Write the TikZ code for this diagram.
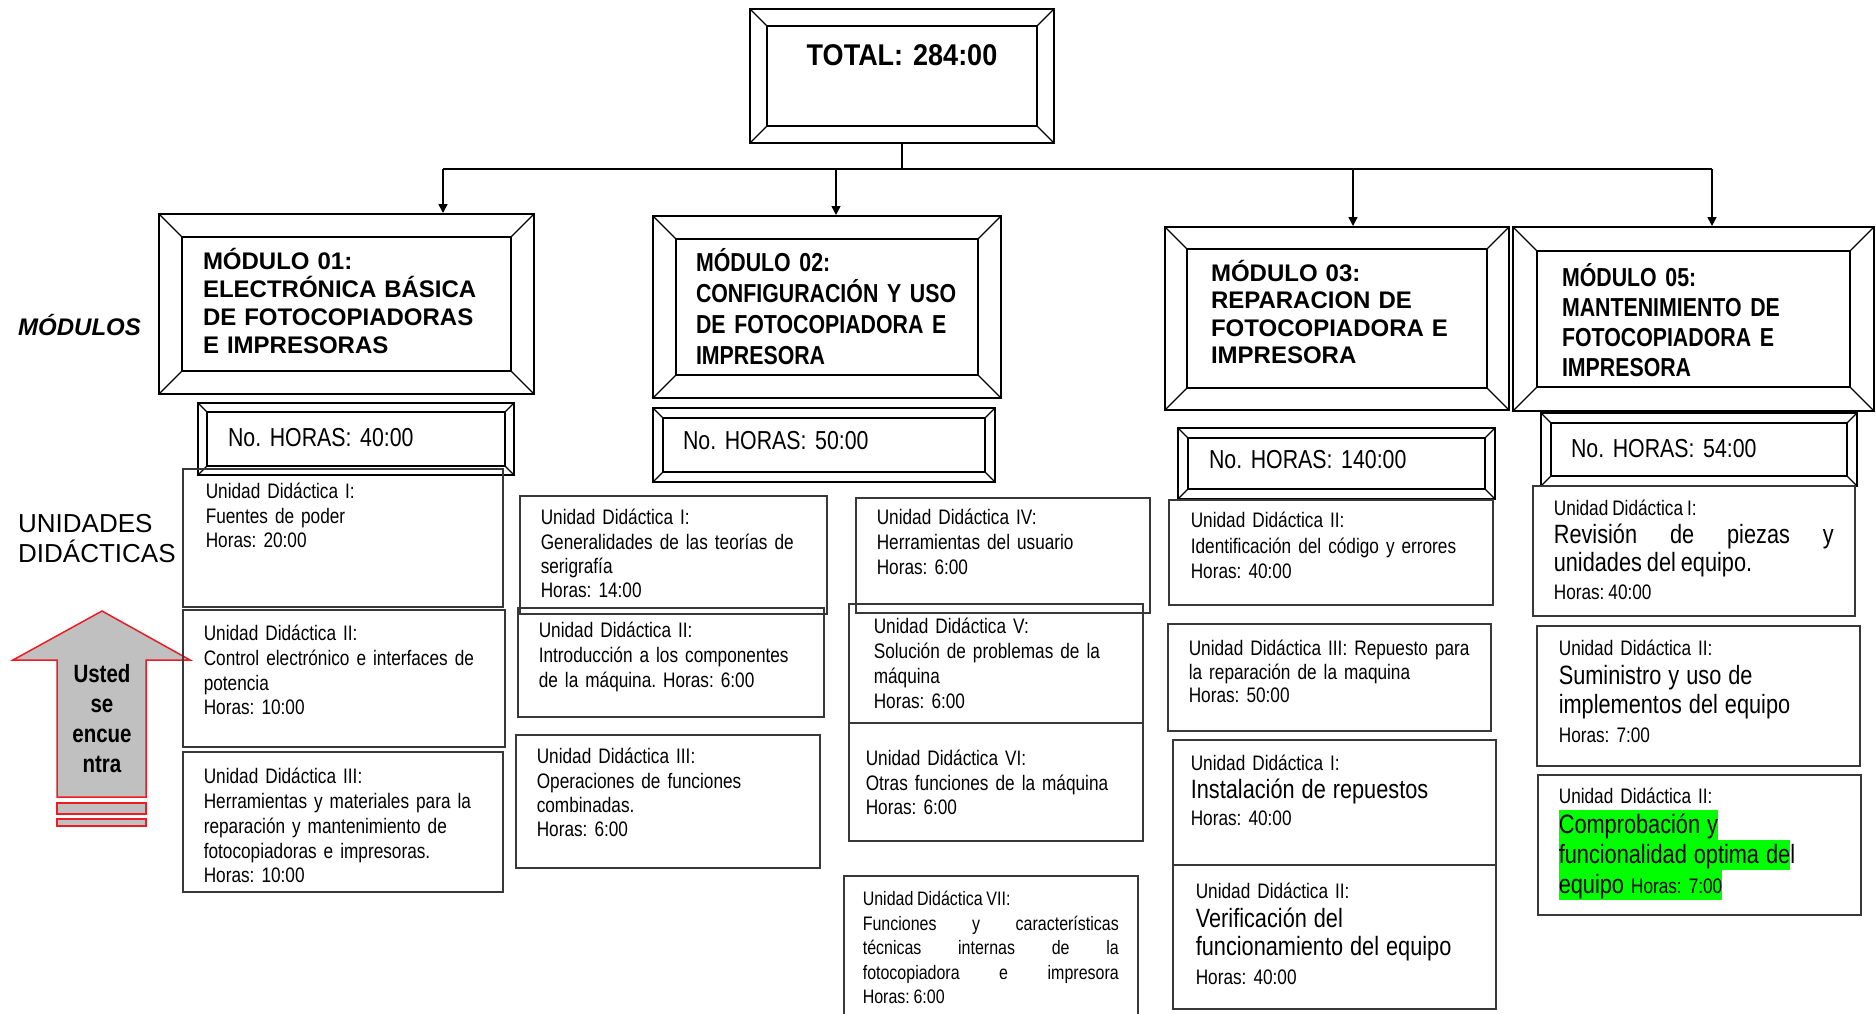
\documentclass[tikz,border=0pt]{standalone}
\usepackage{fontspec}
\setmainfont{Liberation Sans}
\newfontfamily\narrowfont{Liberation Sans}[FakeStretch=0.82,WordSpace=0.82]
\newfontfamily\semifont{Liberation Sans}[FakeStretch=0.9,WordSpace=0.9]
\usepackage{xcolor}
\usetikzlibrary{arrows.meta}
\frenchspacing
\definecolor{hlgreen}{RGB}{0,255,0}
\definecolor{tagred}{RGB}{237,28,36}
\definecolor{tagfill}{RGB}{192,192,192}
\colorlet{boxline}{black!78}
\newcommand{\modfont}{\bfseries\fontsize{24}{28}\selectfont}
\newcommand{\modnarrow}[1]{\narrowfont\bfseries\fontsize{26}{#1}\selectfont}
\newcommand{\udfont}[2]{\narrowfont\fontsize{#1}{#2}\selectfont}
\newcommand{\ubig}{\fontsize{26.5}{30}\selectfont}
\newcommand{\hlg}[1]{{\setlength{\fboxsep}{0pt}\colorbox{hlgreen}{\rule[-6.5pt]{0pt}{30pt}#1}}}
\tikzset{
  bevel/.style={draw, line width=2pt, anchor=north west, align=left, inner ysep=0pt,
    path picture={
      \draw[line width=1.3pt]
        ([shift={(#1pt,-#1pt)}]path picture bounding box.north west) rectangle
        ([shift={(-#1pt,#1pt)}]path picture bounding box.south east);
      \draw[line width=1.3pt]
        (path picture bounding box.north west) -- ++(#1pt,-#1pt)
        (path picture bounding box.north east) -- ++(-#1pt,-#1pt)
        (path picture bounding box.south west) -- ++(#1pt,#1pt)
        (path picture bounding box.south east) -- ++(-#1pt,#1pt);
    }},
  bevel/.default=23,
  ubox/.style={draw=boxline, line width=1.6pt, anchor=north west, align=left, inner ysep=0pt},
  arr/.style={-{Triangle[length=9pt,width=9pt]}, line width=1.6pt},
  tag/.style={draw=tagred, fill=tagfill, line width=1.5pt},
}
\begin{document}
\begin{tikzpicture}[x=1pt, y=-1pt]
  \useasboundingbox (0,0) rectangle (1876,1013);
  \fill[white] (0,0) rectangle (1876,1013);

  % total
  \node[bevel=17, align=center, text width=270pt, inner xsep=17pt, text height=56pt, text depth=78pt,
        font={\semifont\bfseries\fontsize{30}{34}\selectfont}]
        (tot) at (749,8) {TOTAL: 284:00};

  % modulos
  \node[bevel, text width=287pt, inner xsep=44pt, text height=55pt, text depth=125pt, font=\modfont]
        (m1) at (158,213) {MÓDULO 01:\\ELECTRÓNICA BÁSICA\\DE FOTOCOPIADORAS\\E IMPRESORAS};
  \node[bevel, text width=262pt, inner xsep=43pt, text height=55pt, text depth=127pt, font={\modnarrow{31}}]
        (m2) at (652,215) {MÓDULO 02:\\CONFIGURACIÓN Y USO\\DE FOTOCOPIADORA E\\IMPRESORA};
  \node[bevel=22, text width=252pt, inner xsep=46pt, text height=54pt, text depth=129pt,
        font={\bfseries\fontsize{24}{27.5}\selectfont}]
        (m3) at (1164,226) {MÓDULO 03:\\REPARACION DE\\FOTOCOPIADORA E\\IMPRESORA};
  \node[bevel=24, text width=263pt, inner xsep=49pt, text height=59pt, text depth=125pt, font={\modnarrow{30}}]
        (m5) at (1512,226) {MÓDULO 05:\\MANTENIMIENTO DE\\FOTOCOPIADORA E\\IMPRESORA};

  % horas
  \node[bevel=9, text width=256pt, inner xsep=30pt, text height=43pt, text depth=29pt, font={\udfont{26}{30}}]
        (h1) at (197,402) {No. HORAS: 40:00};
  \node[bevel=10, text width=282pt, inner xsep=30pt, text height=41pt, text depth=33pt, font={\udfont{26}{30}}]
        (h2) at (652,407) {No. HORAS: 50:00};
  \node[bevel=10, text width=255pt, inner xsep=31pt, text height=40pt, text depth=31pt, font={\udfont{26}{30}}]
        (h3) at (1177,427) {No. HORAS: 140:00};
  \node[bevel=10, text width=256pt, inner xsep=30pt, text height=44pt, text depth=29pt, font={\udfont{26}{30}}]
        (h5) at (1540,412) {No. HORAS: 54:00};

  % etiquetas
  \node[anchor=base west, inner sep=0pt, font=\bfseries\itshape\fontsize{24}{28}\selectfont]
        (lblmod) at (18,335) {MÓDULOS};
  \node[anchor=base west, inner sep=0pt, align=left, text width=180pt, font=\fontsize{26}{30}\selectfont]
        (lblud) at (18,532) {UNIDADES\\DIDÁCTICAS};

  % usted se encuentra
  \filldraw[tag] (102,611) -- (190,660) -- (146,660) -- (146,797) -- (57,797) -- (57,660) -- (13,660) -- cycle;
  \filldraw[tag] (57,803) rectangle (146,814);
  \filldraw[tag] (57,819) rectangle (146,826);
  \node[anchor=base, inner sep=0pt, align=center, text width=90pt,
        font={\narrowfont\bfseries\fontsize{25}{30}\selectfont}]
        (usted) at (102,682) {Usted\\se\\encue\\ntra};

  % modulo 01
  \node[ubox, text width=274pt, inner xsep=23pt, text height=30pt, text depth=108pt, font={\udfont{21}{24.5}}]
        (c1u1) at (182,468) {Unidad Didáctica I:\\Fuentes de poder\\Horas: 20:00};
  \node[ubox, text width=280pt, inner xsep=21pt, text height=31pt, text depth=106pt, font={\udfont{21}{24.7}}]
        (c1u2) at (182,609) {Unidad Didáctica II:\\Control electrónico e interfaces de\\potencia\\Horas: 10:00};
  \node[ubox, text width=278pt, inner xsep=21pt, text height=32pt, text depth=108pt, font={\udfont{21}{24.75}}]
        (c1u3) at (182,751) {Unidad Didáctica III:\\Herramientas y materiales para la\\reparación y mantenimiento de\\fotocopiadoras e impresoras.\\Horas: 10:00};

  % modulo 02
  \node[ubox, text width=265pt, inner xsep=21pt, text height=29pt, text depth=89pt, font={\udfont{21}{24.3}}]
        (c2u1) at (519,495) {Unidad Didáctica I:\\Generalidades de las teorías de\\serigrafía\\Horas: 14:00};
  \node[ubox, text width=264pt, inner xsep=21pt, text height=30pt, text depth=79pt, font={\udfont{21}{25}}]
        (c2u2) at (517,607) {Unidad Didáctica II:\\Introducción a los componentes\\de la máquina. Horas: 6:00};
  \node[ubox, text width=262pt, inner xsep=21pt, text height=29pt, text depth=104pt, font={\udfont{21}{24.3}}]
        (c2u3) at (515,734) {Unidad Didáctica III:\\Operaciones de funciones\\combinadas.\\Horas: 6:00};
  \node[ubox, text width=252pt, inner xsep=21pt, text height=27pt, text depth=88pt, font={\udfont{21}{25}}]
        (c3u4) at (855,497) {Unidad Didáctica IV:\\Herramientas del usuario\\Horas: 6:00};
  \node[ubox, text width=244pt, inner xsep=25pt, text height=30pt, text depth=89pt, font={\udfont{21}{25}}]
        (c3u5) at (848,603) {Unidad Didáctica V:\\Solución de problemas de la\\máquina\\Horas: 6:00};
  \node[ubox, text width=260pt, inner xsep=17pt, text height=43pt, text depth=75pt, font={\udfont{21}{24.5}}]
        (c3u6) at (848,722) {Unidad Didáctica VI:\\Otras funciones de la máquina\\Horas: 6:00};
  \node[ubox, align=justify, text width=256pt, inner xsep=19pt, text height=30pt, text depth=150pt, font={\udfont{19.5}{24.5}}]
        (c3u7) at (843,875) {Unidad Didáctica VII:\\Funciones y características\linebreak
        técnicas internas de la\linebreak fotocopiadora e impresora\linebreak Horas: 6:00};

  % modulo 03
  \node[ubox, text width=280pt, inner xsep=22pt, text height=28pt, text depth=77pt, font={\udfont{21}{25.5}}]
        (c4u1) at (1168,499) {Unidad Didáctica II:\\Identificación del código y errores\\Horas: 40:00};
  \node[ubox, text width=281pt, inner xsep=21pt, text height=32pt, text depth=75pt, font={\udfont{21}{23.5}}]
        (c4u2) at (1167,623) {Unidad Didáctica III: Repuesto para\\la reparación de la maquina\\Horas: 50:00};
  \node[ubox, text width=287pt, inner xsep=18pt, text height=31pt, text depth=94pt, font={\udfont{21}{27.5}}]
        (c4u3) at (1172,739) {Unidad Didáctica I:\\{\ubig Instalación de repuestos}\\Horas: 40:00};
  \node[ubox, text width=277pt, inner xsep=23pt, text height=34pt, text depth=110pt, font={\udfont{21}{28.5}}]
        (c4u4) at (1172,864) {Unidad Didáctica II:\\{\ubig Verificación del}\\{\ubig funcionamiento del equipo}\\Horas: 40:00};

  % modulo 05
  \node[ubox, align=justify, text width=280pt, inner xsep=21pt, text height=30pt, text depth=100pt, font={\udfont{21}{28}}]
        (c5u1) at (1532,485) {Unidad Didáctica I:\\{\ubig Revisión de piezas y\linebreak unidades del equipo.}\\Horas: 40:00};
  \node[ubox, text width=279pt, inner xsep=22pt, text height=30pt, text depth=110pt, font={\udfont{21}{29}}]
        (c5u2) at (1536,625) {Unidad Didáctica II:\\{\ubig Suministro y uso de}\\{\ubig implementos del equipo}\\Horas: 7:00};
  \node[ubox, text width=281pt, inner xsep=21pt, text height=29pt, text depth=111pt, font={\udfont{21}{30}}]
        (c5u3) at (1537,774) {Unidad Didáctica II:\\{\ubig\hlg{Comprobación y}}\\{\ubig\hlg{funcionalidad optima de}l}\\\hlg{{\ubig equipo} Horas: 7:00}};

  % conectores
  \coordinate (b1) at (443,169);
  \coordinate (b2) at (836,169);
  \coordinate (b3) at (1353,169);
  \coordinate (b4) at (1712,169);
  \draw[line width=1.6pt] (tot.south) -- (tot.south |- b1);
  \draw[line width=1.6pt] (b1) -- (b4);
  \draw[arr] (b1) -- (b1 |- m1.north);
  \draw[arr] (b2) -- (b2 |- m2.north);
  \draw[arr] (b3) -- (b3 |- m3.north);
  \draw[arr] (b4) -- (b4 |- m5.north);
\end{tikzpicture}
\end{document}
